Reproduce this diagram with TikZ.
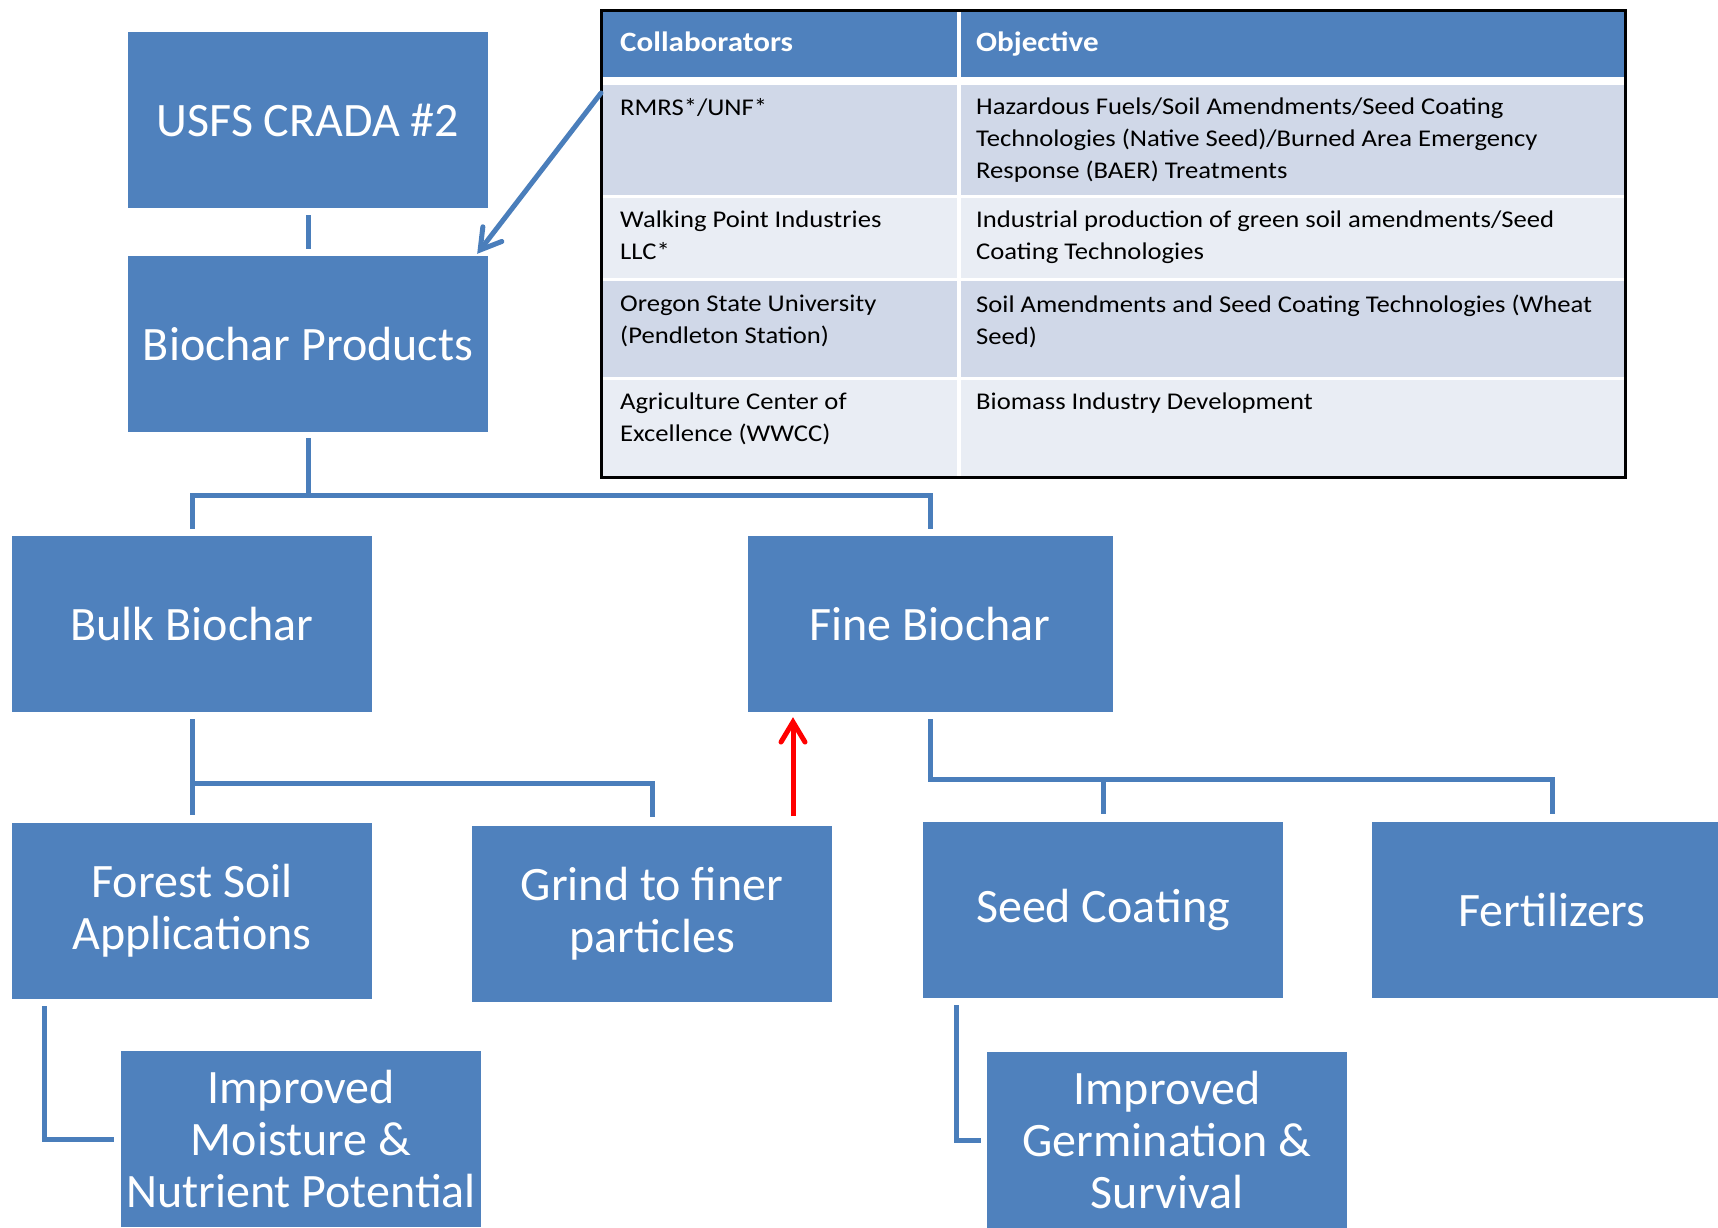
\documentclass[tikz,border=0pt]{standalone}
\usepackage{fontspec}
\setmainfont{Carlito}
\newfontfamily\tabfont[FakeStretch=1.11]{Carlito}
\usetikzlibrary{arrows.meta}
\definecolor{boxblue}{HTML}{4F81BD}
\definecolor{lineblue}{HTML}{4A7EBB}
\definecolor{rowdark}{HTML}{D0D8E8}
\definecolor{rowlight}{HTML}{E9EDF4}
\tikzstyle{bx}=[rectangle,fill=boxblue,text=white,minimum width=360pt,minimum height=176pt,inner sep=0pt,align=center,font=\fontsize{48}{52}\selectfont]
\tikzstyle{cn}=[draw=lineblue,line width=5pt]
\tikzstyle{barb}=[-{Straight Barb[length=20pt,width=24pt,line cap=round]}]
\tikzstyle{cell}=[anchor=north west,inner sep=0pt,align=left,font=\tabfont\fontsize{24}{32}\selectfont]
\tikzstyle{hd}=[anchor=base west,inner sep=0pt,text=white,font=\tabfont\fontsize{28}{30}\selectfont\bfseries]

\begin{document}
\begin{tikzpicture}[x=1pt,y=-1pt]
\useasboundingbox (0,0) rectangle (1718,1227);
\clip (0,0) rectangle (1718,1227);
\fill[white] (0,0) rectangle (1718,1227);

\node[bx] (usfs) at (308,120) {USFS CRADA \#2};
\node[bx] (prod) at (308,344) {Biochar Products};
\node[bx] (bulk) at (192,624) {Bulk Biochar};
\node[bx,minimum width=365pt] (fine) at (930,624) {Fine Biochar};
\node[bx] (forest) at (192,911) {Forest Soil\\Applications};
\node[bx] (grind) at (652,914) {Grind to finer\\particles};
\node[bx] (seed) at (1103,910) {Seed Coating};
\node[bx] (fert) at (1552,910) {Fertilizers};
\node[bx] (moist) at (301,1139) {Improved\\Moisture \&\\Nutrient Potential};
\node[bx] (germ) at (1167,1140) {Improved\\Germination \&\\Survival};

% table of collaborators
\fill[boxblue] (601,10) rectangle (1625,77);
\fill[rowdark] (601,85) rectangle (1625,195);
\fill[rowlight] (601,198) rectangle (1625,278);
\fill[rowdark] (601,281) rectangle (1625,377);
\fill[rowlight] (601,380) rectangle (1625,477);
\fill[white] (956.5,10) rectangle (960.5,477);
\draw[line width=3pt] (601,10) rectangle (1625,477);
\node[hd] (h1) at (620,51) {Collaborators};
\node[hd] (h2) at (976,51) {Objective};
\node[cell] (a1) at (620,98) {RMRS*/UNF*};
\node[cell] (b1) at (976,98) {Hazardous Fuels/Soil Amendments/Seed Coating\\Technologies (Native Seed)/Burned Area Emergency\\Response (BAER) Treatments};
\node[cell] (a2) at (620,211) {Walking Point Industries\\LLC*};
\node[cell] (b2) at (976,211) {Industrial production of green soil amendments/Seed\\Coating Technologies};
\node[cell] (a3) at (620,295) {Oregon State University\\(Pendleton Station)};
\node[cell] (b3) at (976,295) {Soil Amendments and Seed Coating Technologies (Wheat\\Seed)};
\node[cell] (a4) at (620,393) {Agriculture Center of\\Excellence (WWCC)};
\node[cell] (b4) at (976,393) {Biomass Industry Development};

% connectors
\coordinate (t0) at (601,93);
\coordinate (j1) at (308,495);
\coordinate (j2) at (192,783);
\coordinate (j3) at (930,779);
\coordinate (r1) at (793,816);
\draw[cn] ([yshift=-7pt]usfs.south) -- ([yshift=7pt]prod.north);
\draw[cn,barb,line cap=round] (t0) -- ([xshift=-11pt,yshift=2pt]prod.north east);
\draw[cn] ([yshift=-6pt]prod.south) -- (j1);
\draw[cn] ([yshift=7pt]bulk.north) |- (j1) -| ([yshift=7pt]fine.north);
\draw[cn] ([yshift=-7pt]bulk.south) -- ([yshift=8pt]forest.north);
\draw[cn] (j2) -| ([yshift=9pt]grind.north);
\draw[cn] ([yshift=-7pt]fine.south) -- (j3) -| ([yshift=8pt]fert.north);
\draw[cn] ([yshift=8pt]seed.north) -- (seed.north |- j3);
\draw[cn] ([xshift=33pt,yshift=-7pt]forest.south west) |- ([xshift=-7pt]moist.west);
\draw[cn] ([xshift=34pt,yshift=-7pt]seed.south west) |- ([xshift=-6pt]germ.west);
\draw[red,line width=5pt,barb] (r1) -- ([yshift=-5pt]r1 |- fine.south);
\end{tikzpicture}
\end{document}
